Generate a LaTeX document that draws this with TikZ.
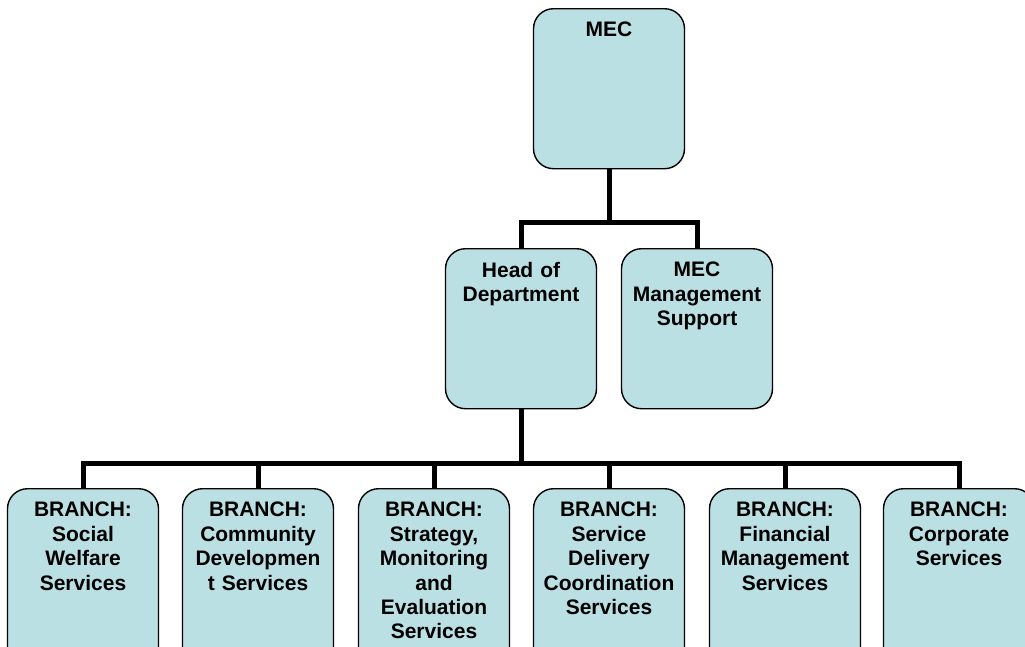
\documentclass[tikz,border=0pt]{standalone}
\usepackage{fontspec}
\setmainfont{Liberation Sans}
\definecolor{boxfill}{RGB}{187,224,227}
\begin{document}
\begin{tikzpicture}[x=1pt,y=1pt,
  orgbox/.style={draw=black, line width=1.4pt, fill=boxfill, rounded corners=20pt,
    minimum width=151pt, inner sep=0pt},
  boxtext/.style={anchor=north, inner sep=0pt, align=center, text width=148pt,
    font=\bfseries\fontsize{21}{24.4}\selectfont},
  link/.style={line width=5pt, line join=miter, black}]
\useasboundingbox (0,0) rectangle (1025,-646);
\clip (0,0) rectangle (1025,-646);
% boxes
\node[orgbox, minimum height=160pt, anchor=north] (mec) at (609,-8) {};
\node[orgbox, minimum height=160pt, anchor=north] (hod) at (521,-248) {};
\node[orgbox, minimum height=160pt, anchor=north] (mms) at (697,-248) {};
\node[orgbox, minimum height=200pt, anchor=north] (b1) at (83,-488) {};
\node[orgbox, minimum height=200pt, anchor=north] (b2) at (258,-488) {};
\node[orgbox, minimum height=200pt, anchor=north] (b3) at (434,-488) {};
\node[orgbox, minimum height=200pt, anchor=north] (b4) at (609,-488) {};
\node[orgbox, minimum height=200pt, anchor=north] (b5) at (785,-488) {};
\node[orgbox, minimum height=200pt, anchor=north] (b6) at (959,-488) {};
% texts
\node[boxtext] (tmec) at ([yshift=-14pt]mec.north) {MEC};
\node[boxtext] (thod) at ([yshift=-14pt]hod.north) {Head of\\Department};
\node[boxtext] (tmms) at ([yshift=-14pt]mms.north) {MEC\\Management\\Support};
\node[boxtext] (tb1) at ([yshift=-14pt]b1.north) {BRANCH:\\Social\\Welfare\\Services};
\node[boxtext] (tb2) at ([yshift=-14pt]b2.north) {BRANCH:\\Community\\Developmen\\t Services};
\node[boxtext] (tb3) at ([yshift=-14pt]b3.north) {BRANCH:\\Strategy,\\Monitoring\\and\\Evaluation\\Services};
\node[boxtext] (tb4) at ([yshift=-14pt]b4.north) {BRANCH:\\Service\\Delivery\\Coordination\\Services};
\node[boxtext] (tb5) at ([yshift=-14pt]b5.north) {BRANCH:\\Financial\\Management\\Services};
\node[boxtext] (tb6) at ([yshift=-14pt]b6.north) {BRANCH:\\Corporate\\Services};
% connectors
\coordinate (j1) at (609,-222);
\coordinate (j2) at (521,-463);
\draw[link] (mec.south) -- (j1);
\draw[link] (hod.north) |- (j1) -| (mms.north);
\draw[link] (hod.south) -- (j2);
\draw[link] (b1.north) |- (j2) -| (b6.north);
\foreach \b in {b2,b3,b4,b5} \draw[link] (\b.north) -- (\b.north |- j2);
\end{tikzpicture}
\end{document}
